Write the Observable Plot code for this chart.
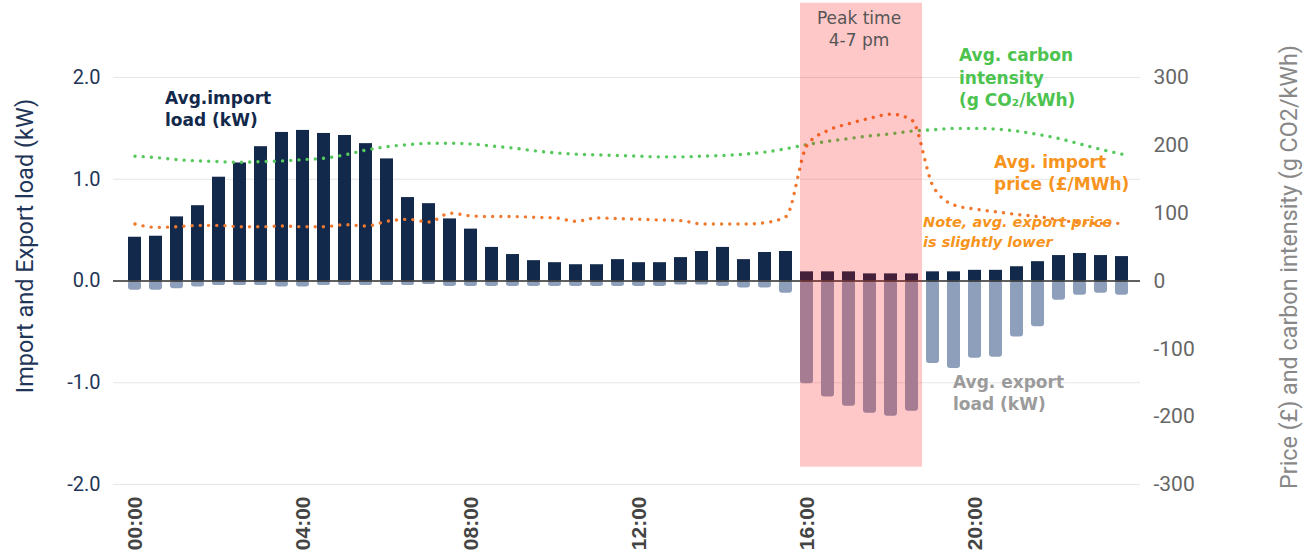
<!DOCTYPE html>
<html><head><meta charset="utf-8">
<script src="https://cdn.jsdelivr.net/npm/d3@7"></script>
<script src="https://cdn.jsdelivr.net/npm/@observablehq/plot@0.6"></script>
<style>html,body{margin:0;padding:0;background:#fff} #chart svg{display:block}</style>
</head><body><div id="chart"></div>
<script>
// half-hour slots
const times = [];
for (let h = 0; h < 24; h++) for (const m of ["00", "30"]) times.push(String(h).padStart(2, "0") + ":" + m);
const tickLabels = ["00:00", "04:00", "08:00", "12:00", "16:00", "20:00"];
const leftTicks = [-2, -1, 0, 1, 2];
const rightTicks = [-300, -200, -100, 0, 100, 200, 300];

// Avg. import load (kW)
const importLoad = [0.43,0.44,0.63,0.74,1.02,1.16,1.32,1.46,1.48,1.45,1.43,1.35,1.20,0.82,0.76,0.61,
  0.51,0.33,0.26,0.20,0.18,0.16,0.16,0.21,0.18,0.18,0.23,0.29,0.33,0.21,0.28,0.29,
  0.09,0.09,0.09,0.07,0.07,0.07,0.09,0.09,0.105,0.105,0.14,0.19,0.25,0.27,0.25,0.24];
// Avg. export load (kW)
const exportLoad = [-0.09,-0.09,-0.075,-0.06,-0.045,-0.045,-0.045,-0.06,-0.06,-0.045,-0.045,-0.045,-0.045,-0.045,-0.035,-0.055,
  -0.055,-0.055,-0.055,-0.055,-0.055,-0.055,-0.055,-0.055,-0.055,-0.055,-0.04,-0.04,-0.055,-0.07,-0.07,-0.12,
  -1.01,-1.14,-1.23,-1.30,-1.33,-1.28,-0.81,-0.86,-0.76,-0.75,-0.55,-0.45,-0.19,-0.14,-0.12,-0.14];
// Avg. carbon intensity (g CO2/kWh)
const carbonIntensity = [184,182,179,177,176,175,176,177,179,181,186,193,198,201,203,203,
  202,199,196,192,189,187,186,185,184,183,183,184,185,187,190,195,
  201,206,210,214,217,221,223,225,225,224,221,216,210,202,194,187];
// Avg. import price (£/MWh)
const importPrice = [84,79,80,82,82,80,80,81,80,80,83,81,88,91,87,100,
  96,95,95,94,93,88,93,92,91,90,89,84,84,84,86,95,
  200,222,232,240,246,237,140,112,106,102,98,95,90,86,85,85];

const peakWindow = ["16:00", "18:30"];
const peakSpan = [-1.83, 2.73];   // in kW units
const ratio = 150;                 // right-axis units per kW

const rows = times.map((t, i) => ({time: t, imp: importLoad[i], exp: exportLoad[i], co2: carbonIntensity[i], price: importPrice[i]}));

const NAVY = "#13294b", EXPORT = "#8d9fbb", GREEN = "#55c95b", GREEN_TXT = "#4cc34f",
      ORANGE = "#f07a30", ORANGE_TXT = "#f7941d";
const ANNOT = "DejaVu Sans";
const dotted = {strokeWidth: 3.4, strokeDasharray: "0.01,8.2", strokeLinecap: "round", curve: "monotone-x"};

const chart = Plot.plot({
  width: 1311, height: 558,
  marginTop: 77, marginBottom: 74, marginLeft: 113, marginRight: 171,
  style: {fontFamily: "Roboto, sans-serif", background: "#fff", overflow: "visible"},
  x: {type: "band", domain: times, range: [119.5, 1136.5], paddingInner: 0.37, paddingOuter: 0.185, align: 0.5, axis: null},
  y: {domain: [-2, 2], axis: null},
  marks: [
    Plot.ruleY(leftTicks.filter(d => d !== 0), {stroke: "#e6e6e6", strokeWidth: 1}),
    Plot.barY(rows, {x: "time", y1: 0, y2: "exp", fill: EXPORT, rx: 3}),
    Plot.barY(rows, {x: "time", y1: 0, y2: "imp", fill: NAVY}),
    Plot.ruleY([0], {stroke: "#2b2b2b", strokeWidth: 1.5}),
    Plot.line(rows, {x: "time", y: d => d.co2 / ratio, stroke: GREEN, ...dotted}),
    Plot.line(rows, {x: "time", y: d => d.price / ratio, stroke: ORANGE, ...dotted}),
    Plot.rect([peakWindow], {x1: d => d[0], x2: d => d[1], y1: peakSpan[0], y2: peakSpan[1], fill: "#ff0000", fillOpacity: 0.215, insetLeft: 0, insetRight: -4}),
    // axes
    Plot.axisY(leftTicks, {anchor: "left", tickSize: 0, tickPadding: 13, tickFormat: d => d.toFixed(1), fontSize: 20, color: "#1f3658", fill: "#1f3658", label: null}),
    Plot.axisY(rightTicks.map(v => v / ratio), {anchor: "right", tickSize: 0, tickPadding: 13, tickFormat: d => String(Math.round(d * ratio)), fontSize: 21, color: "#666", fill: "#666", label: null}),
    Plot.axisX(tickLabels, {anchor: "bottom", tickSize: 0, tickPadding: 12, tickRotate: -90, fontSize: 21, fontWeight: "bold", fontFamily: "Liberation Sans, Arial, sans-serif", color: "#444", fill: "#444", label: null}),
    Plot.text(["Import and Export load (kW)"], {frameAnchor: "left", text: d => d, rotate: -90, textAnchor: "middle", lineAnchor: "middle", dx: -88, dy: -35, fontSize: 23.5, fill: "#1f3658"}),
    Plot.text(["Price (£) and carbon intensity (g CO2/kWh)"], {frameAnchor: "right", text: d => d, rotate: -90, textAnchor: "middle", lineAnchor: "middle", dx: 149, dy: -14, fontSize: 23.3, fill: "#888"}),
    // annotations
    Plot.text(["Avg.import\nload (kW)"], {x: () => "00:30", y: () => 1.705, text: d => d, dx: 9, textAnchor: "start", lineAnchor: "middle", lineHeight: 1.3, fontSize: 17, fontWeight: "bold", fontFamily: ANNOT, fill: NAVY}),
    Plot.text(["Peak time\n4-7 pm"], {x: () => "17:00", y: () => 2.49, text: d => d, dx: 10, textAnchor: "middle", lineAnchor: "middle", lineHeight: 1.3, fontSize: 17, fontFamily: ANNOT, fill: "#555"}),
    Plot.text(["Avg. carbon\nintensity\n(g CO₂/kWh)"], {x: () => "19:30", y: () => 2.01, text: d => d, dx: 5, textAnchor: "start", lineAnchor: "middle", lineHeight: 1.3, fontSize: 17, fontWeight: "bold", fontFamily: ANNOT, fill: GREEN_TXT}),
    Plot.text(["Avg. import\nprice (£/MWh)"], {x: () => "20:30", y: () => 1.076, text: d => d, dx: -2, textAnchor: "start", lineAnchor: "middle", lineHeight: 1.3, fontSize: 17, fontWeight: "bold", fontFamily: ANNOT, fill: ORANGE_TXT}),
    Plot.text(["Note, avg. export price\nis slightly lower"], {x: () => "18:30", y: () => 0.496, text: d => d, dx: 11, textAnchor: "start", lineAnchor: "middle", lineHeight: 1.35, fontSize: 14.5, fontWeight: "bold", fontStyle: "italic", fontFamily: ANNOT, fill: ORANGE_TXT}),
    Plot.text(["Avg. export\nload (kW)"], {x: () => "19:30", y: () => -1.086, text: d => d, dx: -1, textAnchor: "start", lineAnchor: "middle", lineHeight: 1.3, fontSize: 17, fontWeight: "bold", fontFamily: ANNOT, fill: "#9b9b9b"})
  ]
});
document.getElementById("chart").append(chart);
</script>
</body></html>
